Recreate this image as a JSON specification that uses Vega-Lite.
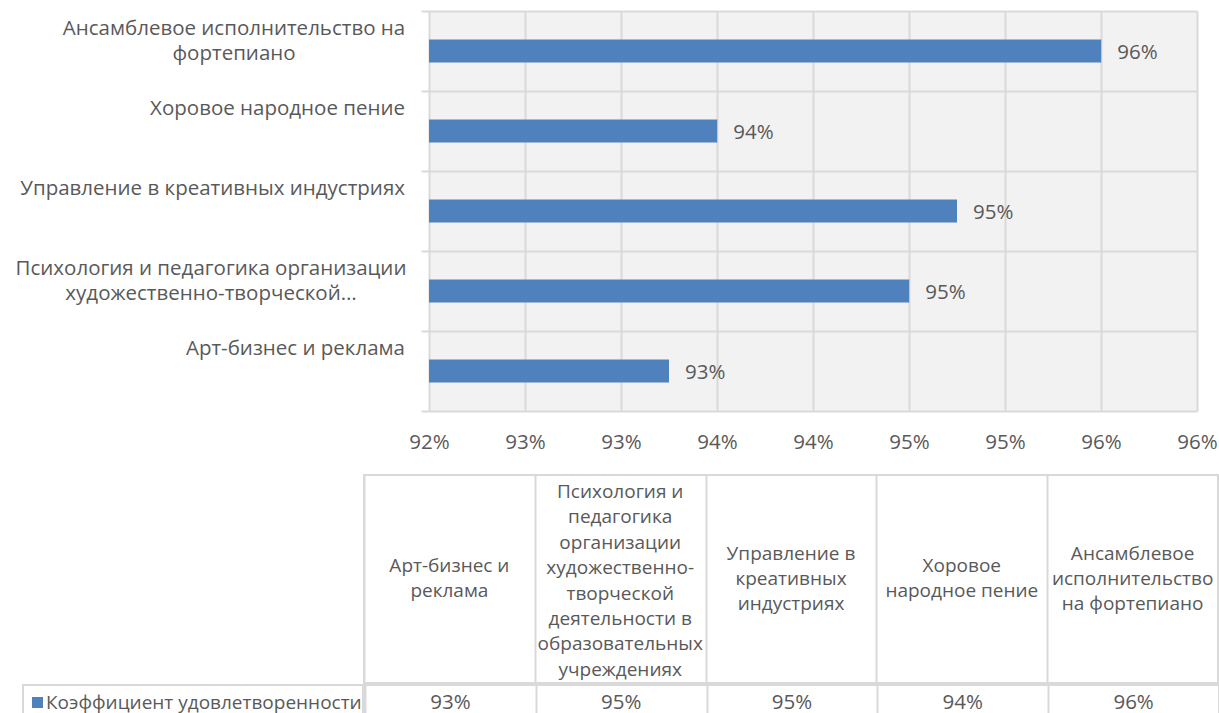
{
  "$schema": "https://vega.github.io/schema/vega-lite/v6.json",
  "padding": {"left": 15, "top": 10, "right": 0, "bottom": 0},
  "background": "white",
  "config": {
    "font": "Open Sans",
    "view": {"stroke": null},
    "axis": {"labelFont": "Open Sans", "labelFontSize": 20.5, "labelColor": "#595959", "gridColor": "#d9d9d9", "gridWidth": 2, "tickColor": "#d9d9d9", "domainColor": "#d9d9d9", "title": null},
    "text": {"font": "Open Sans", "fontSize": 20.5, "color": "#595959"}
  },
  "datasets": {
    "rows": [
      {"name": "Арт-бизнес и реклама", "axisLabel": "Арт-бизнес и реклама", "tableLabel": "Арт-бизнес и\nреклама", "value": 0.9325},
      {"name": "Психология и педагогика организации художественно-творческой деятельности в образовательных учреждениях", "axisLabel": "Психология и педагогика организации\nхудожественно-творческой…", "tableLabel": "Психология и\nпедагогика\nорганизации\nхудожественно-\nтворческой\nдеятельности в\nобразовательных\nучреждениях", "value": 0.94501},
      {"name": "Управление в креативных индустриях", "axisLabel": "Управление в креативных индустриях", "tableLabel": "Управление в\nкреативных\nиндустриях", "value": 0.9475},
      {"name": "Хоровое народное пение", "axisLabel": "Хоровое народное пение", "tableLabel": "Хоровое\nнародное пение", "value": 0.93501},
      {"name": "Ансамблевое исполнительство на фортепиано", "axisLabel": "Ансамблевое исполнительство на\nфортепиано", "tableLabel": "Ансамблевое\nисполнительство\nна фортепиано", "value": 0.95501}
    ],
    "series": [
      {"series": "Коэффициент удовлетворенности"}
    ]
  },
  "vconcat": [
    {
      "hconcat": [
        {
          "data": {"name": "rows"},
          "width": 393,
          "height": 400,
          "encoding": {
            "y": {
              "field": "name", "type": "nominal",
              "sort": ["Ансамблевое исполнительство на фортепиано", "Хоровое народное пение", "Управление в креативных индустриях", "Психология и педагогика организации художественно-творческой деятельности в образовательных учреждениях", "Арт-бизнес и реклама"],
              "scale": {"paddingInner": 0, "paddingOuter": 0},
              "axis": null
            },
            "x": {"datum": 1, "type": "quantitative", "scale": {"domain": [0, 1], "nice": false, "zero": false}, "axis": null},
            "text": {"field": "axisLabel"}
          },
          "layer": [
            {"transform": [{"filter": "indexof(datum.axisLabel, '\\n') < 0"}], "mark": {"type": "text", "lineBreak": "\n", "lineHeight": 25, "align": "right", "baseline": "top", "dx": -3, "dy": -32}},
            {"transform": [{"filter": "indexof(datum.axisLabel, 'Ансамблевое') == 0"}], "mark": {"type": "text", "lineBreak": "\n", "lineHeight": 25, "align": "center", "baseline": "top", "dx": -174, "dy": -32}},
            {"transform": [{"filter": "indexof(datum.axisLabel, 'Психология') == 0"}], "mark": {"type": "text", "lineBreak": "\n", "lineHeight": 25, "align": "center", "baseline": "top", "dx": -197, "dy": -32}}
          ]
        },
        {
          "data": {"name": "rows"},
          "width": 768,
          "height": 400,
          "view": {"fill": "#f2f2f2", "stroke": null},
          "encoding": {
            "y": {
              "field": "name", "type": "nominal",
              "sort": ["Ансамблевое исполнительство на фортепиано", "Хоровое народное пение", "Управление в креативных индустриях", "Психология и педагогика организации художественно-творческой деятельности в образовательных учреждениях", "Арт-бизнес и реклама"],
              "scale": {"paddingInner": 0, "paddingOuter": 0},
              "axis": {"labels": false, "tickBand": "extent", "tickSize": 8, "tickWidth": 2, "domain": false, "grid": true}
            },
            "x": {
              "field": "value", "type": "quantitative",
              "scale": {"domain": [0.92, 0.96], "zero": false, "nice": false},
              "axis": {"values": [0.92, 0.925, 0.93, 0.935, 0.94, 0.945, 0.95, 0.955, 0.96], "format": ".0%", "labelPadding": 21, "labelFlush": false, "labelOverlap": false, "domain": false, "ticks": false, "grid": true}
            }
          },
          "layer": [
            {"mark": {"type": "bar", "color": "#4f81bd", "height": {"band": 0.2875}, "clip": true}, "encoding": {"x2": {"datum": 0.92}}},
            {"mark": {"type": "text", "align": "left", "baseline": "middle", "dx": 16, "dy": 2}, "encoding": {"text": {"field": "value", "type": "quantitative", "format": ".0%"}}}
          ]
        }
      ],
      "spacing": 0
    },
    {
      "vconcat": [
        {
          "hconcat": [
            {"data": {"name": "series"}, "width": 348, "height": 208, "mark": {"type": "text"}, "encoding": {"text": {"value": ""}}},
            {
              "data": {"name": "rows"},
              "width": 854,
              "height": 208,
              "view": {"stroke": "#d9d9d9", "strokeWidth": 2, "fill": "white"},
              "encoding": {
                "x": {"field": "name", "type": "nominal", "sort": ["Арт-бизнес и реклама", "Психология и педагогика организации художественно-творческой деятельности в образовательных учреждениях", "Управление в креативных индустриях", "Хоровое народное пение", "Ансамблевое исполнительство на фортепиано"], "scale": {"paddingInner": 0, "paddingOuter": 0}, "axis": {"grid": true, "tickBand": "extent", "labels": false, "ticks": false, "domain": false}},
                "text": {"field": "tableLabel"}
              },
              "layer": [
                {"transform": [{"filter": "length(split(datum.tableLabel, '\\n')) == 2"}], "mark": {"type": "text", "lineBreak": "\n", "lineHeight": 25.4, "fontSize": 19, "align": "center", "baseline": "middle", "dy": -13.5}},
                {"transform": [{"filter": "length(split(datum.tableLabel, '\\n')) == 3"}], "mark": {"type": "text", "lineBreak": "\n", "lineHeight": 25.4, "fontSize": 19, "align": "center", "baseline": "middle", "dy": -25.5}},
                {"transform": [{"filter": "length(split(datum.tableLabel, '\\n')) == 8"}], "mark": {"type": "text", "lineBreak": "\n", "lineHeight": 25.4, "fontSize": 19, "align": "center", "baseline": "middle", "dy": -87}}
              ]
            }
          ],
          "spacing": 0
        },
        {
          "hconcat": [
            {
              "data": {"name": "series"},
              "width": 348,
              "height": 31,
              "layer": [
                {"mark": {"type": "rect", "fill": "white", "stroke": "#d9d9d9", "strokeWidth": 2}, "encoding": {"x": {"field": "series", "type": "nominal", "scale": {"paddingInner": 0, "paddingOuter": 0.01176, "align": 1}, "axis": null}}},
                {"mark": {"type": "point", "shape": "square", "filled": true, "size": 121, "color": "#4f81bd", "opacity": 1, "xOffset": 14.5, "yOffset": 2}, "encoding": {"x": {"field": "series", "type": "nominal", "bandPosition": 0}}},
                {"mark": {"type": "text", "align": "left", "baseline": "middle", "dx": 23, "dy": 2, "fontSize": 19}, "encoding": {"x": {"field": "series", "type": "nominal", "bandPosition": 0}, "text": {"field": "series"}}}
              ]
            },
            {
              "data": {"name": "rows"},
              "width": 854,
              "height": 31,
              "view": {"stroke": "#d9d9d9", "strokeWidth": 2, "fill": "white"},
              "mark": {"type": "text", "align": "center", "baseline": "middle", "dy": 2},
              "encoding": {
                "x": {"field": "name", "type": "nominal", "sort": ["Арт-бизнес и реклама", "Психология и педагогика организации художественно-творческой деятельности в образовательных учреждениях", "Управление в креативных индустриях", "Хоровое народное пение", "Ансамблевое исполнительство на фортепиано"], "scale": {"paddingInner": 0, "paddingOuter": 0}, "axis": {"grid": true, "tickBand": "extent", "labels": false, "ticks": false, "domain": false}},
                "text": {"field": "value", "type": "quantitative", "format": ".0%"}
              }
            }
          ],
          "spacing": 0
        }
      ],
      "spacing": 0
    }
  ],
  "spacing": 21
}
